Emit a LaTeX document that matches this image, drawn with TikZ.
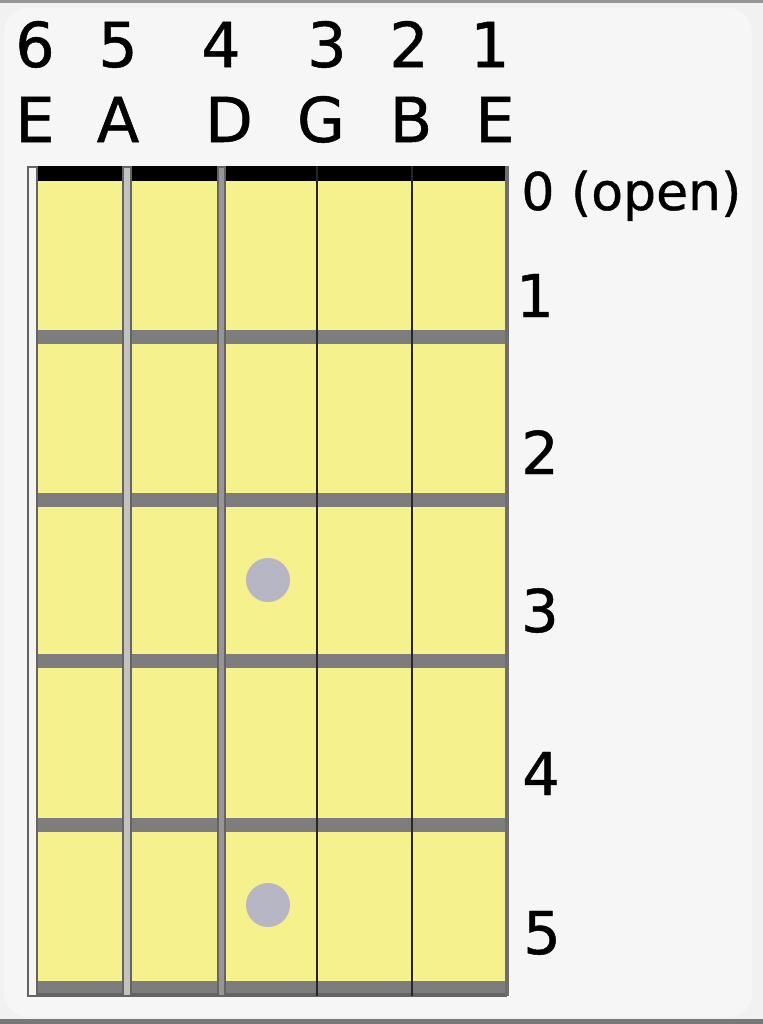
\documentclass[tikz,border=0pt]{standalone}
\usepackage{fontspec}
\setmainfont[FakeBold=0.8]{DejaVu Sans}
\definecolor{bgout}{RGB}{241,241,241}
\definecolor{bgin}{RGB}{246,246,246}
\definecolor{frame}{RGB}{150,150,150}
\definecolor{wood}{RGB}{245,241,140}
\definecolor{fretc}{RGB}{125,125,125}
\definecolor{fretedge}{RGB}{100,100,100}
\definecolor{dotc}{RGB}{182,182,196}
\definecolor{strA}{RGB}{245,245,240}
\definecolor{strB}{RGB}{195,195,190}
\definecolor{strC}{RGB}{150,150,150}
\definecolor{strdark}{RGB}{110,110,110}
\tikzset{
  toplabel/.style={anchor=base, inner sep=0pt, font=\fontsize{31}{31}\selectfont},
  fretlabel/.style={anchor=base, inner sep=0pt, font=\fontsize{29.5}{29.5}\selectfont},
  openlabel/.style={anchor=base west, inner sep=0pt, font=\fontsize{26}{26}\selectfont},
  fretbar/.style={fill=fretc},
  fingerdot/.style={circle, fill=dotc, minimum size=22pt, inner sep=0pt},
}
\begin{document}
\begin{tikzpicture}[x=0.5pt,y=-0.5pt]
\useasboundingbox (0,0) rectangle (763,1024);
% background
\fill[bgout] (0,0) rectangle (763,1024);
\fill[bgin, rounded corners=12] (4,8) rectangle (752,1017);
\fill[frame] (0,0) rectangle (763,3);
\fill[frame!80!black] (0,1019) rectangle (763,1024);
% fretboard
\fill[wood] (30,166) rectangle (507,990);
% nut
\fill[black] (30,166) rectangle (507,181);
% frets
\foreach \y in {337,500,661,825} {
  \fill[fretbar] (30,\y-7) rectangle (507,\y+7);
}
\fill[fretbar] (30,981) rectangle (507,995);
\fill[fretedge] (30,993) rectangle (507,997);
% finger dots
\node[fingerdot] (dot3) at (268,580) {};
\node[fingerdot] (dot5) at (268,905) {};
% strings
\fill[strA, draw=fretedge, line width=1.2pt] (28,167) rectangle (37,996);
\fill[strB, draw=fretedge, line width=1pt] (123,167) rectangle (131,996);
\fill[strC, draw=fretedge, line width=0.8pt] (218,167) rectangle (225,996);
\draw[black!85, line width=1.4pt] (317,166) -- (317,996);
\draw[black!85, line width=1.4pt] (412,166) -- (412,996);
\draw[strdark, line width=1.6pt] (507,166) -- (507,996);
% string numbers
\node[toplabel] (n6) at (35,67) {6};
\node[toplabel] (n5) at (118,67) {5};
\node[toplabel] (n4) at (221,67) {4};
\node[toplabel] (n3) at (327,67) {3};
\node[toplabel] (n2) at (409,67) {2};
\node[toplabel] (n1) at (490,67) {1};
% string names
\node[toplabel] (l6) at (35,142) {E};
\node[toplabel] (l5) at (118,142) {A};
\node[toplabel] (l4) at (229,142) {D};
\node[toplabel] (l3) at (321,142) {G};
\node[toplabel] (l2) at (411,142) {B};
\node[toplabel] (l1) at (495,142) {E};
% fret numbers
\node[openlabel] (f0) at (521,210) {0 (open)};
\node[fretlabel] (f1) at (535,317) {1};
\node[fretlabel] (f2) at (540,474) {2};
\node[fretlabel] (f3) at (540,632) {3};
\node[fretlabel] (f4) at (541,795) {4};
\node[fretlabel] (f5) at (542,954) {5};
\end{tikzpicture}
\end{document}
